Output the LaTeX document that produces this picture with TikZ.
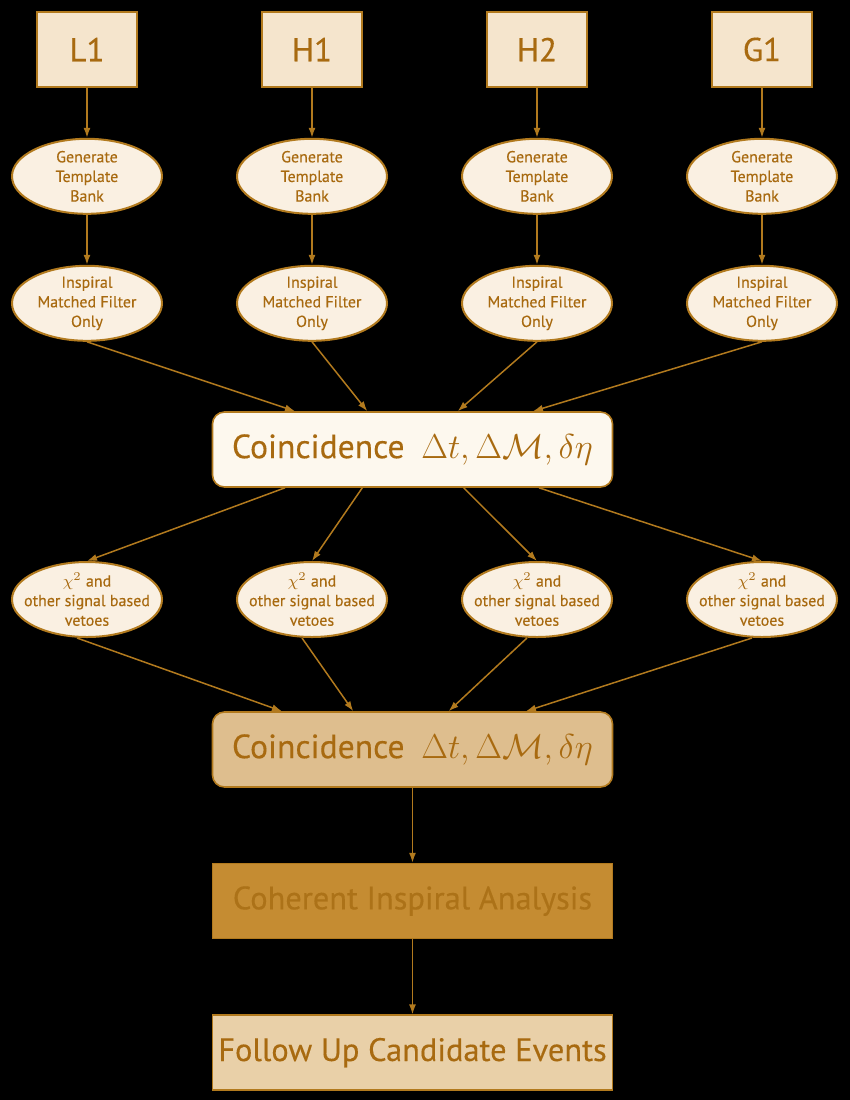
\documentclass[tikz,border=0pt]{standalone}
\usepackage{amsmath,amssymb}
\usepackage[no-math]{fontspec}
\setmainfont{PT Sans}[FakeBold=0.3]
\usepackage{xcolor}
\usepackage{tikz}
\usetikzlibrary{arrows.meta,positioning,calc,shapes.geometric}
\definecolor{edge}{HTML}{B27A1E}
\definecolor{ink}{HTML}{A86A10}
\definecolor{detfill}{HTML}{F5E5CD}
\definecolor{ellfill}{HTML}{FAF0E2}
\definecolor{cofill}{HTML}{FDF8EE}
\definecolor{cobfill}{HTML}{DEBE8E}
\definecolor{cohfill}{HTML}{C58C32}
\definecolor{cohink}{HTML}{AC7218}
\definecolor{folfill}{HTML}{E9D0A8}
\newcommand{\coincmath}{{\fontsize{18.5}{20}\selectfont$\Delta t, \Delta\mathcal{M}, \delta\eta$}}

\begin{document}
\begin{tikzpicture}[
 x=0.5pt,y=-0.5pt,
 every node/.style={text=ink},
 det/.style={draw=edge,line width=0.8pt,fill=detfill,minimum width=50pt,minimum height=37.5pt,inner sep=0pt,font=\fontsize{16.5}{19}\selectfont},
 ell/.style={ellipse,draw=edge,line width=1pt,fill=ellfill,minimum width=75pt,minimum height=37.5pt,inner sep=-6pt,align=center,font=\fontsize{8}{9.8}\selectfont},
 wide/.style={draw=edge,line width=0.8pt,minimum width=200pt,minimum height=37.5pt,inner sep=0pt,font=\fontsize{16.2}{18}\selectfont},
 arr/.style={-{Latex[length=5pt,width=3.5pt]},line width=0.75pt,draw=edge}
]
\fill[black] (0,0) rectangle (850,1100);
% detectors and their filtering chains
\foreach \d/\x [count=\i] in {L1/87,H1/312,H2/537,G1/762}{
  \node[det] (det\i) at (\x,49.5) {\d};
  \node[ell,below=25pt of det\i] (gen\i) {Generate\\Template\\Bank};
  \node[ell,below=25pt of gen\i] (insp\i) {Inspiral\\Matched Filter\\Only};
  \node[ell] (veto\i) at (\x,599.5) {$\chi^2$ and\\other signal based\\vetoes};
  \draw[arr] (det\i) -- (gen\i);
  \draw[arr] (gen\i) -- (insp\i);
}
\node[wide,rounded corners=6pt,fill=cofill,font=\fontsize{16.8}{18}\selectfont] (coinc) at (412.5,449.5) {Coincidence\enspace\coincmath};
\node[wide,rounded corners=6pt,fill=cobfill,font=\fontsize{16.8}{18}\selectfont] (coincb) at (412.5,749.5) {Coincidence\enspace\coincmath};
\node[wide,fill=cohfill,text=cohink,below=37.5pt of coincb] (coh) {Coherent Inspiral Analysis};
\node[wide,fill=folfill,below=37.5pt of coh] (follow) {Follow Up Candidate Events};
% fan in / fan out
\foreach \i/\a in {1/0.2075,2/0.3875,3/0.6125,4/0.8}
  \draw[arr] (insp\i.south) -- ($(coinc.north west)!\a!(coinc.north east)$);
\foreach \i/\a in {1/0.1825,2/0.375,3/0.6275,4/0.815}
  \draw[arr] ($(coinc.south west)!\a!(coinc.south east)$) -- (veto\i.north);
\foreach \i/\a in {1/0.175,2/0.3525,3/0.59,4/0.7825}
  \draw[arr] ([xshift=-5pt]veto\i.south) -- ($(coincb.north west)!\a!(coincb.north east)$);
\draw[arr] (coincb) -- (coh);
\draw[arr] (coh) -- (follow);
\end{tikzpicture}
\end{document}
